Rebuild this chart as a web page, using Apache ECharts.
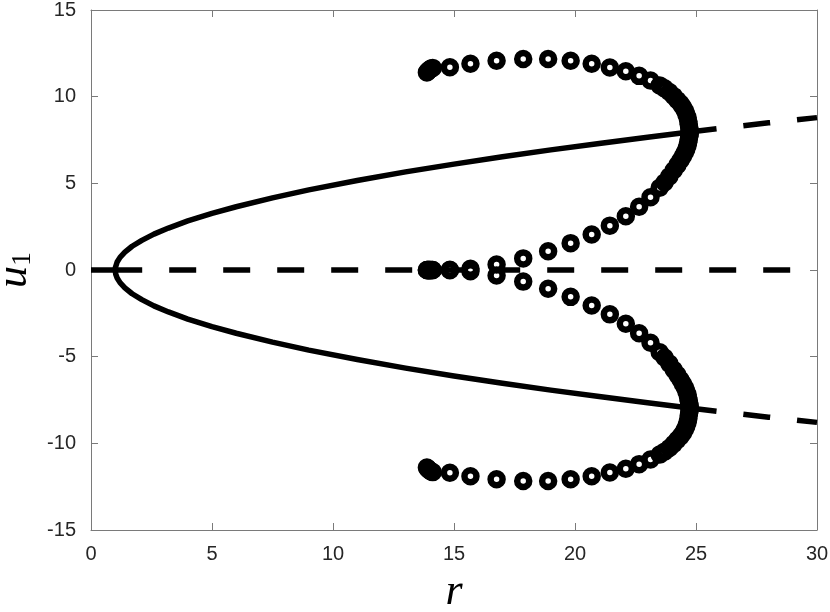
<!DOCTYPE html>
<html><head><meta charset="utf-8">
<script src="https://cdn.jsdelivr.net/npm/echarts@6/dist/echarts.min.js"></script>
<style>html,body{margin:0;padding:0;background:#fff}#c{width:830px;height:612px}</style>
</head><body><div id="c"></div><script>
// axis ticks
const xTicks = [0, 5, 10, 15, 20, 25, 30];
const yTicks = [-15, -10, -5, 0, 5, 10, 15];

// trivial equilibrium u1 = 0
const zeroStableR = [0, 1];
const zeroStableU = [0, 0];
const zeroUnstableR = [1, 30];
const zeroUnstableU = [0, 0];

// nontrivial equilibria (stable part)
const branchR     = [1, 1.005, 1.02, 1.08, 1.2, 1.4, 1.7, 2.1, 2.6, 3.2, 4, 5, 6, 7.5, 9, 11, 13, 15, 17, 19, 21, 23, 24.74];
const branchUpper = [0, 0.12, 0.23, 0.46, 0.73, 1.03, 1.37, 1.71, 2.07, 2.42, 2.83, 3.27, 3.65, 4.16, 4.62, 5.16, 5.66, 6.11, 6.53, 6.93, 7.30, 7.66, 7.96];
const branchLower = [0, -0.12, -0.23, -0.46, -0.73, -1.03, -1.37, -1.71, -2.07, -2.42, -2.83, -3.27, -3.65, -4.16, -4.62, -5.16, -5.66, -6.11, -6.53, -6.93, -7.30, -7.66, -7.96];

// nontrivial equilibria (unstable part)
const unstableR     = [24.74, 26, 28, 30];
const unstableUpper = [7.96, 8.17, 8.49, 8.79];
const unstableLower = [-7.96, -8.17, -8.49, -8.79];

// periodic orbits: r and extremes of u1
const orbitR = [13.88, 13.92, 13.96, 14.0, 14.05, 14.12, 14.83, 15.68, 16.76, 17.86, 18.89, 19.82, 20.69, 21.44, 22.1, 22.65, 23.12, 23.5, 23.7, 23.9, 24.08, 24.23, 24.36, 24.46, 24.54, 24.6, 24.65, 24.68, 24.7, 24.72, 24.735, 24.74];
const plusMax  = [11.4, 11.46, 11.52, 11.57, 11.62, 11.66, 11.7, 11.9, 12.07, 12.17, 12.17, 12.07, 11.9, 11.68, 11.47, 11.2, 10.93, 10.65, 10.48, 10.27, 10.03, 9.8, 9.6, 9.4, 9.2, 9.0, 8.8, 8.6, 8.4, 8.22, 8.08, 8.0];
const plusMin  = [0, 0, 0, 0, 0, 0, 0.01, 0.07, 0.32, 0.67, 1.08, 1.55, 2.05, 2.56, 3.1, 3.65, 4.2, 4.75, 5.05, 5.4, 5.75, 6.05, 6.33, 6.57, 6.78, 6.98, 7.18, 7.38, 7.55, 7.7, 7.82, 7.9];
const minusMax = [0, 0, 0, 0, 0, 0, -0.01, -0.07, -0.32, -0.67, -1.08, -1.55, -2.05, -2.56, -3.1, -3.65, -4.2, -4.75, -5.05, -5.4, -5.75, -6.05, -6.33, -6.57, -6.78, -6.98, -7.18, -7.38, -7.55, -7.7, -7.82, -7.9];
const minusMin = [-11.4, -11.46, -11.52, -11.57, -11.62, -11.66, -11.7, -11.9, -12.07, -12.17, -12.17, -12.07, -11.9, -11.68, -11.47, -11.2, -10.93, -10.65, -10.48, -10.27, -10.03, -9.8, -9.6, -9.4, -9.2, -9.0, -8.8, -8.6, -8.4, -8.22, -8.08, -8.0];

const pairs = (xs, ys) => xs.map((x, i) => [x, ys[i]]);
const solidCurve = pairs(branchR, branchLower).reverse().concat(pairs(branchR, branchUpper));
const orbitPts = pairs(orbitR, plusMax).concat(pairs(orbitR, plusMin), pairs(orbitR, minusMax), pairs(orbitR, minusMin));

const axisCol = '#7a7a7a';
const lblFont = {color: '#262626', fontFamily: 'Liberation Sans', fontSize: 20};
function xAx(pos, show) {
  return {
    type: 'value', position: pos, min: xTicks[0], max: xTicks[xTicks.length - 1], interval: 5,
    axisLine: {show: true, onZero: false, lineStyle: {color: axisCol, width: 1}},
    axisTick: {show: true, inside: true, length: 7, lineStyle: {color: axisCol}},
    axisLabel: Object.assign({show: show, margin: 14}, lblFont),
    splitLine: {show: false}
  };
}
function yAx(pos, show) {
  return {
    type: 'value', position: pos, min: yTicks[0], max: yTicks[yTicks.length - 1], interval: 5,
    axisLine: {show: true, onZero: false, lineStyle: {color: axisCol, width: 1}},
    axisTick: {show: true, inside: true, length: 7, lineStyle: {color: axisCol}},
    axisLabel: Object.assign({show: show, margin: 15}, lblFont),
    splitLine: {show: false}
  };
}
const xa0 = xAx('bottom', true);
xa0.name = 'r';
xa0.nameLocation = 'middle';
xa0.nameGap = 40;
xa0.nameTextStyle = {fontFamily: 'Liberation Serif', fontStyle: 'italic', fontSize: 44, color: '#000'};
const ya0 = yAx('left', true);
ya0.name = '{u|u}{s|1}';
ya0.nameLocation = 'middle';
ya0.nameRotate = 90;
ya0.nameGap = 54;
ya0.nameTextStyle = {
  rich: {
    u: {fontFamily: 'Liberation Serif', fontStyle: 'italic', fontSize: 44, lineHeight: 44, color: '#000'},
    s: {fontFamily: 'Liberation Serif', fontSize: 28, lineHeight: 14, verticalAlign: 'bottom', color: '#000'}
  }
};

const chart = echarts.init(document.getElementById('c'), null, {renderer: 'canvas'});
chart.setOption({
  animation: false,
  backgroundColor: '#fff',
  grid: {left: 91, right: 13, top: 10, bottom: 82, containLabel: false, outerBoundsMode: 'none'},
  xAxis: [xa0, xAx('top', false)],
  yAxis: [ya0, yAx('right', false)],
  series: [
    {type: 'line', data: pairs(zeroStableR, zeroStableU), showSymbol: false, lineStyle: {color: '#000', width: 5.5}},
    {type: 'line', data: pairs(zeroUnstableR, zeroUnstableU), showSymbol: false, lineStyle: {color: '#000', width: 5.5, type: [27, 27]}},
    {type: 'line', data: solidCurve, showSymbol: false, lineStyle: {color: '#000', width: 5.5, join: 'round'}},
    {type: 'line', data: pairs(unstableR, unstableUpper), showSymbol: false, lineStyle: {color: '#000', width: 5.5, type: [27, 27]}},
    {type: 'line', data: pairs(unstableR, unstableLower), showSymbol: false, lineStyle: {color: '#000', width: 5.5, type: [27, 27]}},
    {type: 'scatter', data: orbitPts, symbol: 'circle', symbolSize: 12,
     itemStyle: {color: 'rgba(0,0,0,0)', borderColor: '#000', borderWidth: 6.5, opacity: 1}}
  ]
});
</script></body></html>
